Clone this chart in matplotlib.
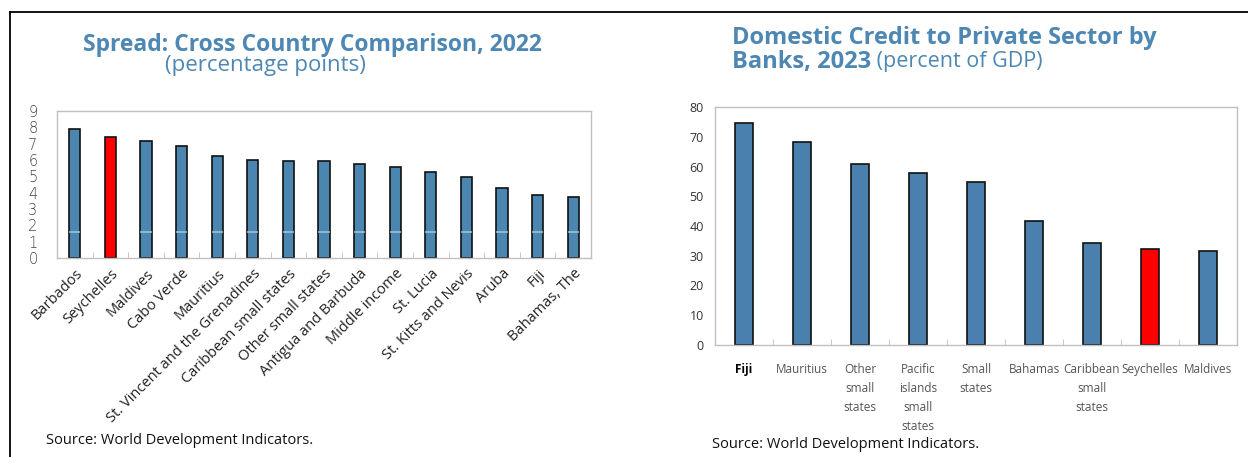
import matplotlib
matplotlib.use("Agg")
import matplotlib.pyplot as plt
import numpy as np
from matplotlib.lines import Line2D

# left panel: lending-deposit spread, 2022
spread_countries = ["Barbados", "Seychelles", "Maldives", "Cabo Verde", "Mauritius",
                    "St. Vincent and the Grenadines", "Caribbean small states",
                    "Other small states", "Antigua and Barbuda", "Middle income",
                    "St. Lucia", "St. Kitts and Nevis", "Aruba", "Fiji", "Bahamas, The"]
spread_values = [7.88, 7.41, 7.16, 6.84, 6.27, 6.02, 5.96, 5.94, 5.73, 5.59,
                 5.29, 4.98, 4.29, 3.88, 3.72]

# right panel: domestic credit to private sector by banks, 2023
credit_countries = ["Fiji", "Mauritius", "Other\nsmall\nstates", "Pacific\nislands\nsmall\nstates",
                    "Small\nstates", "Bahamas", "Caribbean\nsmall\nstates", "Seychelles", "Maldives"]
credit_values = [74.6, 68.1, 60.7, 57.9, 54.9, 41.8, 34.3, 32.2, 31.5]

W, H = 1248, 457
BLUE = "#4a86b0"
TITLE = "#4d87b3"
HIGHLIGHT = "Seychelles"


def px(x, y, w, h):
    # pixel box (top-left origin) -> figure fraction
    return [x / W, 1 - (y + h) / H, w / W, h / H]


def style_axes(ax):
    for s in ax.spines.values():
        s.set_color("#c0c0c0")
        s.set_linewidth(1.0)
    ax.tick_params(axis="y", length=0)
    ax.tick_params(axis="x", which="major", length=0)
    ax.tick_params(axis="x", which="minor", length=4, direction="in", color="#c0c0c0")


fig = plt.figure(figsize=(W / 100, H / 100), dpi=100)
plt.rcParams["font.family"] = ["Open Sans", "DejaVu Sans"]

# frame lines
fig.add_artist(Line2D([10 / W, 1], [1 - 12 / H, 1 - 12 / H], color="black", lw=1.3))
fig.add_artist(Line2D([10 / W, 10 / W], [0, 1 - 12 / H], color="black", lw=1.3))

# ---- left chart ----
ax1 = fig.add_axes(px(57, 111, 534, 147))
n1 = len(spread_countries)
x1 = np.arange(n1)
cols1 = ["#ff0000" if c == HIGHLIGHT else BLUE for c in spread_countries]
ax1.bar(x1, spread_values, width=0.31, color=cols1, edgecolor="#111111", linewidth=1.2, zorder=2)
for xi, c in zip(x1, spread_countries):
    if c != HIGHLIGHT:
        ax1.plot([xi - 0.13, xi + 0.13], [1.6, 1.6], color="#9cc3da", lw=1.2, zorder=3)
ax1.set_xlim(-0.5, n1 - 0.5)
ax1.set_ylim(0, 9)
ax1.set_yticks(range(0, 10))
ax1.set_xticks(x1)
ax1.set_xticks(np.arange(0.5, n1 - 1, 1), minor=True)
ax1.set_xticklabels(spread_countries, rotation=45, ha="right", rotation_mode="anchor",
                    fontsize=10.5, color="#222222")
ax1.set_yticklabels([str(v) for v in range(0, 10)], fontsize=10.5, color="#444444",
                    family="DejaVu Sans", fontweight="light")
style_axes(ax1)
ax1.tick_params(axis="y", pad=14)
ax1.tick_params(axis="x", which="major", pad=6)

fig.text(312 / W, 1 - 45 / H, "Spread: Cross Country Comparison, 2022", ha="center",
         va="center", fontsize=16.5, fontweight="bold", color=TITLE)
fig.text(265 / W, 1 - 66 / H, "(percentage points)", ha="center", va="center",
         fontsize=16, color=TITLE)
fig.text(46 / W, 1 - 440 / H, "Source: World Development Indicators.", ha="left",
         va="center", fontsize=10.5, color="#111111")

# ---- right chart ----
ax2 = fig.add_axes(px(715, 107, 522, 238))
n2 = len(credit_countries)
x2 = np.arange(n2)
cols2 = ["#ff0000" if c == HIGHLIGHT else "#4a80ad" for c in credit_countries]
ax2.bar(x2, credit_values, width=0.31, color=cols2, edgecolor="#111111", linewidth=1.2, zorder=2)
ax2.set_xlim(-0.5, n2 - 0.5)
ax2.set_ylim(0, 80)
ax2.set_yticks(range(0, 90, 10))
ax2.set_yticklabels([str(v) for v in range(0, 90, 10)], fontsize=9, color="#333333")
ax2.set_xticks(x2)
ax2.set_xticks(np.arange(0.5, n2 - 1, 1), minor=True)
ax2.set_xticklabels(credit_countries, fontsize=8.5, color="#555555", linespacing=1.6,
                    va="top", ha="center")
ax2.get_xticklabels()[0].set_color("#000000")
ax2.get_xticklabels()[0].set_fontweight("bold")
style_axes(ax2)
ax2.tick_params(axis="y", pad=8)
ax2.tick_params(axis="x", which="major", pad=13)

fig.text(732 / W, 1 - 38 / H, "Domestic Credit to Private Sector by", ha="left",
         va="center", fontsize=17, fontweight="bold", color=TITLE)
t2 = fig.text(732 / W, 1 - 62 / H, "Banks, 2023", ha="left", va="center",
              fontsize=17, fontweight="bold", color=TITLE)
fig.add_artist(plt.Annotation(" (percent of GDP)", xy=(1, 0.5), xycoords=t2, va="center",
                              ha="left", fontsize=15.5, color=TITLE))
fig.text(712 / W, 1 - 445 / H, "Source: World Development Indicators.", ha="left",
         va="center", fontsize=10.5, color="#111111")

fig.savefig("out.png", dpi=100)
